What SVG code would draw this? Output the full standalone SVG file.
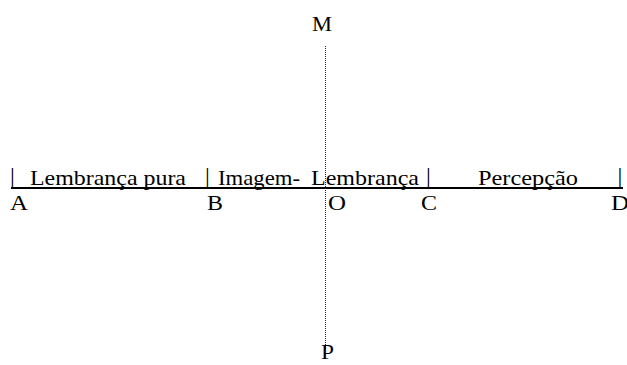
<svg xmlns="http://www.w3.org/2000/svg" width="627" height="365" viewBox="0 0 627 365">
  <style>
    .t { font-family: 'Liberation Serif', 'Times New Roman', 'DejaVu Serif', serif; font-size: 21px; fill: #000; }
    .bar { text-anchor: middle; font-size: 24px; }
    .axis { stroke: #000; stroke-width: 2; fill: none; }
    .dotted { stroke: #222; stroke-width: 1; stroke-dasharray: 1 1; fill: none; }
  </style>
  <rect width="627" height="365" fill="#fff"/>
  <g id="connectors">
    <line class="axis" x1="11" y1="188" x2="623" y2="188"/>
    <line class="dotted" x1="325.5" y1="46" x2="325.5" y2="350"/>
  </g>
  <g id="segment-labels" class="t">
    <text class="bar" x="12.5" y="184">|</text>
    <text x="30" y="185" textLength="156" lengthAdjust="spacingAndGlyphs">Lembrança pura</text>
    <text class="bar" x="207.5" y="184">|</text>
    <text x="218" y="185" textLength="82" lengthAdjust="spacingAndGlyphs">Imagem-</text>
    <text x="311" y="185" textLength="108" lengthAdjust="spacingAndGlyphs">Lembrança</text>
    <text class="bar" x="428.5" y="184">|</text>
    <text x="478" y="185" textLength="100" lengthAdjust="spacingAndGlyphs">Percepção</text>
    <text class="bar" x="620" y="184">|</text>
  </g>
  <g class="t">
    <g id="node-A"><text x="10" y="210" textLength="18" lengthAdjust="spacingAndGlyphs">A</text></g>
    <g id="node-B"><text x="207" y="210" textLength="16" lengthAdjust="spacingAndGlyphs">B</text></g>
    <g id="node-O"><text x="328" y="210" textLength="18" lengthAdjust="spacingAndGlyphs">O</text></g>
    <g id="node-C"><text x="421" y="210" textLength="16" lengthAdjust="spacingAndGlyphs">C</text></g>
    <g id="node-D"><text x="611" y="210" textLength="18" lengthAdjust="spacingAndGlyphs">D</text></g>
    <g id="node-M"><text x="312" y="31" textLength="20" lengthAdjust="spacingAndGlyphs">M</text></g>
    <g id="node-P"><text x="321" y="359" textLength="13" lengthAdjust="spacingAndGlyphs">P</text></g>
  </g>
</svg>
